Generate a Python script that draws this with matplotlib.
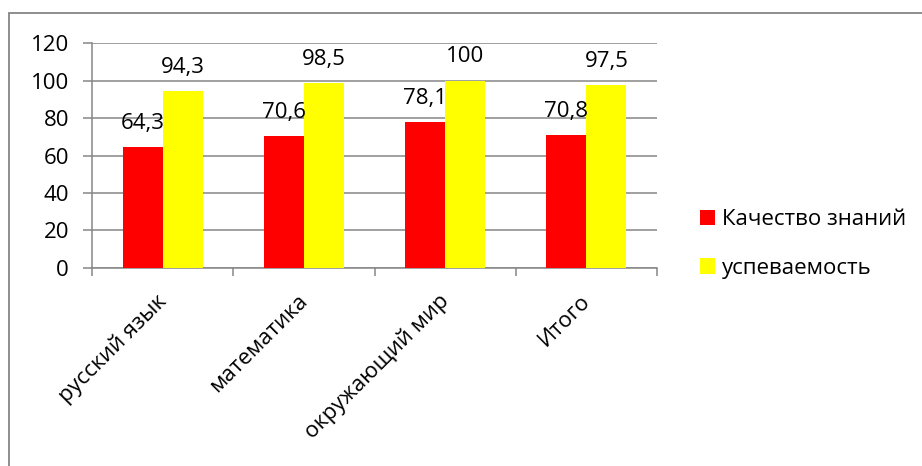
import matplotlib
matplotlib.use('Agg')

import numpy as np
import matplotlib.pyplot as plt
import matplotlib.transforms as mtransforms
from matplotlib.patches import Rectangle

# ============================================================
# DATA
# ============================================================

subjects = ['русский язык', 'математика', 'окружающий мир', 'Итого']
quality = [64.3, 70.6, 78.1, 70.8]
progress = [94.3, 98.5, 100, 97.5]
series_names = ['Качество знаний', 'успеваемость']

# ============================================================
# STYLE
# ============================================================

plt.rcParams['font.family'] = ['Open Sans', 'DejaVu Sans']
plt.rcParams['font.size'] = 16

GREY = '#868686'
RED = '#FF0000'
YELLOW = '#FFFF00'

fig = plt.figure(figsize=(9.22, 4.66), dpi=100)

ax = fig.add_axes([0.0998, 0.4249, 0.6128, 0.4828])

x = np.arange(len(subjects))
w = 0.283

b1 = ax.bar(x - w / 2, quality, w, color=RED, label=series_names[0], zorder=3)
b2 = ax.bar(x + w / 2, progress, w, color=YELLOW, label=series_names[1], zorder=3)

# data labels above bars
for bars, vals in [(b1, quality), (b2, progress)]:
    for rect, v in zip(bars, vals):
        ax.annotate(
            ('%g' % v).replace('.', ','),
            (rect.get_x() + rect.get_width() / 2, rect.get_height()),
            xytext=(0, 13),
            textcoords='offset points',
            ha='center',
            va='baseline',
            zorder=4
        )

ax.set_xlim(-0.5, len(subjects) - 0.5)
ax.set_ylim(0, 120)
ax.set_yticks(np.arange(0, 121, 20))

ax.yaxis.grid(True, color=GREY, lw=1.1, zorder=0)
ax.set_axisbelow(True)

for side in ['top', 'right']:
    ax.spines[side].set_visible(False)
for side in ['left', 'bottom']:
    ax.spines[side].set_color(GREY)
    ax.spines[side].set_linewidth(1.1)

ax.tick_params(axis='y', length=6.5, width=1.1, color=GREY, pad=10)

# category labels and boundary ticks
ax.set_xticks(x)
ax.set_xticklabels(subjects, rotation=45, ha='right',
                   rotation_mode='anchor')
ax.set_xticks(np.arange(-0.5, len(subjects), 1), minor=True)
ax.tick_params(axis='x', which='major', length=0, pad=14)
ax.tick_params(axis='x', which='minor', length=6, width=1.1, color=GREY)

shift = mtransforms.ScaledTranslation(-0.07, -0.03, fig.dpi_scale_trans)
for lbl in ax.get_xticklabels():
    lbl.set_transform(lbl.get_transform() + shift)

fig.legend(
    handles=[b1, b2],
    loc='upper left',
    bbox_to_anchor=(0.759, 0.551),
    frameon=False,
    borderpad=0,
    borderaxespad=0,
    handlelength=0.68,
    handleheight=0.68,
    handletextpad=0.3,
    labelspacing=1.24
)

# outer chart border
fig.patches.append(Rectangle(
    (9 / 922, -0.05), 1.1, 1 - 13 / 466 + 0.05,
    transform=fig.transFigure,
    fill=False,
    edgecolor=GREY,
    lw=1.3
))

plt.savefig('out.png', dpi=100)
